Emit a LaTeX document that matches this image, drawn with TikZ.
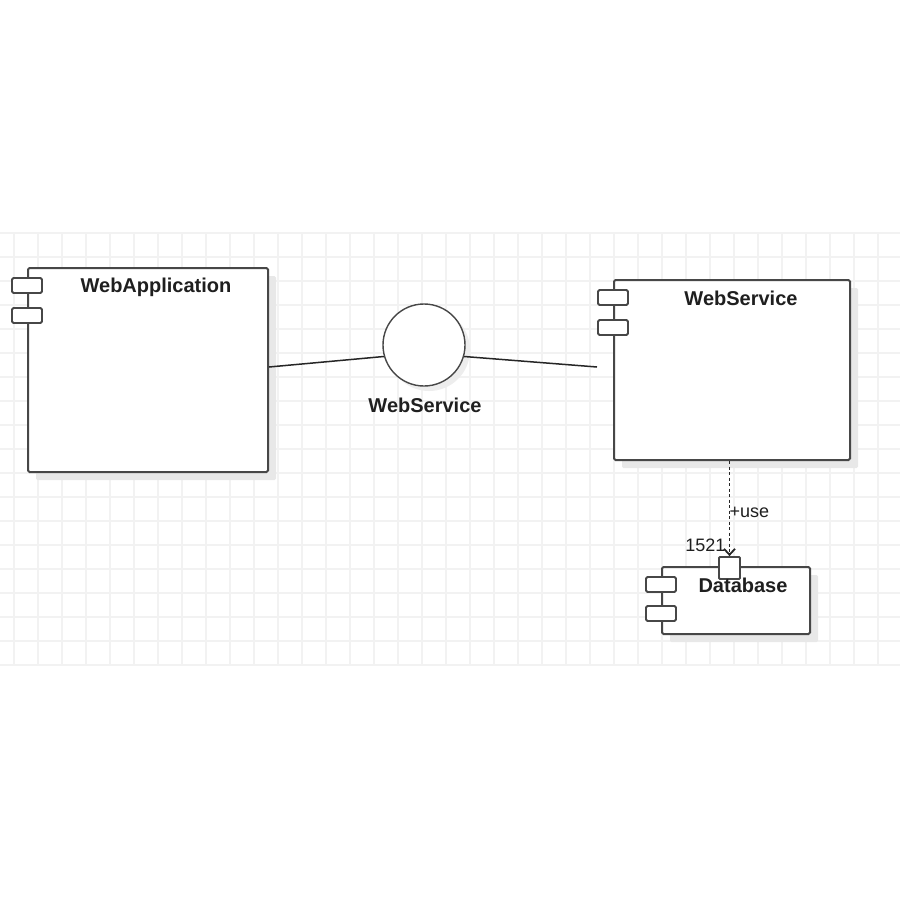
\documentclass[tikz,border=0pt]{standalone}
\usepackage{fontspec}
\setmainfont{Liberation Sans}
\usetikzlibrary{calc}
\usetikzlibrary{shadows}
\usetikzlibrary{arrows.meta}

\begin{document}
\begin{tikzpicture}[x=1pt, y=-1pt]
                \tikzstyle{gridline} = [draw=black!5, line width=1.3pt]
                \tikzstyle{comp} = [draw=black!72, line width=2pt, fill=white, rounded corners=1.5pt, inner sep=0pt,
                    drop shadow={shadow xshift=8pt, shadow yshift=-8pt, fill=black!9, opacity=1}]
                \tikzstyle{tab} = [draw=black!72, line width=1.8pt, fill=white, rounded corners=1.5pt]
                \tikzstyle{title} = [font=\bfseries\fontsize{20}{24}\selectfont, text=black!88]
                \tikzstyle{plain} = [font=\fontsize{18}{22}\selectfont, text=black!88]
                \useasboundingbox[fill=white] (0,0) rectangle (900,900);
                \foreach \k in {0,...,18} \draw[gridline] (0,233+24*\k) -- (900,233+24*\k);
                \foreach \k in {0,...,36} \draw[gridline] (14+24*\k,233) -- (14+24*\k,665);
                \node[comp, minimum width=240pt, minimum height=204pt] (webapp) at (148,370) {};
                \node[comp, minimum width=236pt, minimum height=180pt] (ws) at (732,370) {};
                \node[comp, minimum width=148pt, minimum height=67pt] (db) at (736,600.5) {};
                \node[circle, draw=black!72, line width=1.4pt, fill=white, minimum size=82pt, inner sep=0pt,
                    drop shadow={shadow xshift=5pt, shadow yshift=-5pt, fill=black!7, opacity=1}] (iface) at (424,345) {};
                \draw[tab] ($(webapp.north west)+(-15,11)$) rectangle ++(30,15);
                \draw[tab] ($(webapp.north west)+(-15,41)$) rectangle ++(30,15);
                \draw[tab] ($(ws.north west)+(-15,11)$) rectangle ++(30,15);
                \draw[tab] ($(ws.north west)+(-15,41)$) rectangle ++(30,15);
                \draw[tab] ($(db.north west)+(-15,11)$) rectangle ++(30,15);
                \draw[tab] ($(db.north west)+(-15,40)$) rectangle ++(30,15);
                \node[tab, minimum width=21pt, minimum height=22pt, inner sep=0pt, rounded corners=1pt] (port) at (729.5,568) {};
                \node[title] at ($(webapp.north)+(8,20)$) {WebApplication};
                \node[title] at ($(ws.north)+(9,19)$) {WebService};
                \node[title] at ($(db.north)+(7,19)$) {Database};
                \node[title] (ifacelabel) at ($(iface.south)+(1,19)$) {WebService};
                \coordinate (wsport) at ($(ws.west)+(-16,-3)$);
                \draw[line width=1.5pt, black!85] ($(webapp.east)+(0,-3)$) -- (iface.196);
                \draw[line width=1.5pt, black!85] (iface.344) -- (wsport);
                \draw[line width=1.8pt, black!85, dash pattern=on 3pt off 2.5pt, -{Straight Barb[length=6pt, width=11pt]}]
                    (port.north |- ws.south) -- (port.north);
                \node[plain, anchor=west] (use) at (726,512) {+use};
                \node[plain, anchor=east] (portno) at (729,545) {1521};
            \end{tikzpicture}
\end{document}
